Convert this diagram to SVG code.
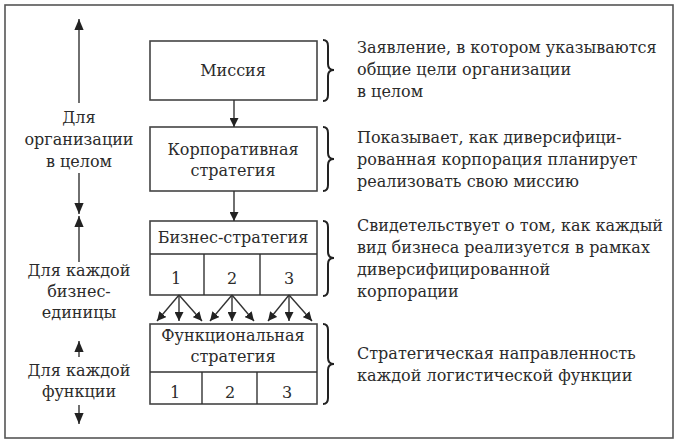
<svg xmlns="http://www.w3.org/2000/svg" width="681" height="445" viewBox="0 0 681 445">
<style>
text{font-family:"DejaVu Serif","Liberation Serif",serif;font-size:16px;fill:#2b2b2b}
.c{text-anchor:middle}
.box{fill:#fff;stroke:#444;stroke-width:1.6}
.ln{stroke:#333;stroke-width:1.4;fill:none}
.br{stroke:#222;stroke-width:2;fill:none}
</style>
<defs>
<marker id="ah" viewBox="0 0 10 10" refX="10" refY="5" markerWidth="9" markerHeight="9" markerUnits="userSpaceOnUse" orient="auto">
<path d="M0,0 L10,5 L0,10 Z" fill="#222"/>
</marker>
<marker id="ah2" viewBox="0 0 10 10" refX="10" refY="5" markerWidth="11" markerHeight="11" markerUnits="userSpaceOnUse" orient="auto">
<path d="M0,0.8 L10,5 L0,9.2 Z" fill="#222"/>
</marker>
</defs>
<rect x="5" y="5" width="668" height="433" fill="#fff" stroke="#555" stroke-width="1.6"/>

<g id="mission">
<rect class="box" x="150" y="41" width="167" height="59"/>
<text class="c" x="233" y="76">Миссия</text>
</g>
<g id="corporate">
<rect class="box" x="150" y="127" width="167" height="64"/>
<text class="c" x="233" y="155">Корпоративная</text>
<text class="c" x="233" y="176">стратегия</text>
</g>
<g id="business">
<rect class="box" x="150" y="221" width="167" height="74"/>
<line class="ln" x1="150" y1="254" x2="317" y2="254"/>
<line class="ln" x1="204" y1="254" x2="204" y2="295"/>
<line class="ln" x1="260" y1="254" x2="260" y2="295"/>
<text class="c" x="233" y="243">Бизнес-стратегия</text>
<text class="c" x="176" y="284">1</text>
<text class="c" x="232" y="284">2</text>
<text class="c" x="289" y="284">3</text>
</g>
<g id="functional">
<rect class="box" x="150" y="324" width="167" height="80"/>
<line class="ln" x1="150" y1="372" x2="317" y2="372"/>
<line class="ln" x1="202" y1="372" x2="202" y2="404"/>
<line class="ln" x1="257" y1="372" x2="257" y2="404"/>
<text class="c" x="233" y="341">Функциональная</text>
<text class="c" x="233" y="362">стратегия</text>
<text class="c" x="175" y="398">1</text>
<text class="c" x="230" y="398">2</text>
<text class="c" x="287" y="398">3</text>
</g>

<g id="connectors">
<line class="ln" x1="234" y1="100" x2="234" y2="127" marker-end="url(#ah)"/>
<line class="ln" x1="234" y1="191" x2="234" y2="221" marker-end="url(#ah)"/>
<line class="ln" x1="179" y1="295" x2="157" y2="321" marker-end="url(#ah)"/>
<line class="ln" x1="179" y1="295" x2="179" y2="321" marker-end="url(#ah)"/>
<line class="ln" x1="179" y1="295" x2="202" y2="321" marker-end="url(#ah)"/>
<line class="ln" x1="232" y1="295" x2="210" y2="321" marker-end="url(#ah)"/>
<line class="ln" x1="232" y1="295" x2="232" y2="321" marker-end="url(#ah)"/>
<line class="ln" x1="232" y1="295" x2="254" y2="321" marker-end="url(#ah)"/>
<line class="ln" x1="289" y1="295" x2="268" y2="321" marker-end="url(#ah)"/>
<line class="ln" x1="289" y1="295" x2="289" y2="321" marker-end="url(#ah)"/>
<line class="ln" x1="289" y1="295" x2="312" y2="321" marker-end="url(#ah)"/>
</g>

<g id="scope-arrows">
<line class="ln" x1="79" y1="103" x2="79" y2="19" marker-end="url(#ah2)"/>
<line class="ln" x1="79" y1="173" x2="79" y2="214" marker-end="url(#ah2)"/>
<line class="ln" x1="79" y1="262" x2="79" y2="216" marker-end="url(#ah2)"/>
<line class="ln" x1="79" y1="357" x2="79" y2="341" marker-end="url(#ah2)"/>
<line class="ln" x1="79" y1="405" x2="79" y2="424" marker-end="url(#ah2)"/>
</g>

<g id="left-labels">
<text class="c" x="79" y="123">Для</text>
<text class="c" x="79" y="145">организации</text>
<text class="c" x="79" y="167">в целом</text>
<text class="c" x="79" y="276">Для каждой</text>
<text class="c" x="79" y="297">бизнес-</text>
<text class="c" x="79" y="318">единицы</text>
<text class="c" x="79" y="376">Для каждой</text>
<text class="c" x="79" y="397">функции</text>
</g>

<g id="braces">
<path class="br" d="M323,40 Q328,40 328,46 L328,64 Q328,70 334,70 Q328,70 328,76 L328,95 Q328,101 323,101"/>
<path class="br" d="M323,127 Q328,127 328,133 L328,153 Q328,159 334,159 Q328,159 328,165 L328,185 Q328,191 323,191"/>
<path class="br" d="M323,221 Q328,221 328,227 L328,252 Q328,258 334,258 Q328,258 328,264 L328,290 Q328,296 323,296"/>
<path class="br" d="M323,324 Q328,324 328,330 L328,358 Q328,364 334,364 Q328,364 328,370 L328,398 Q328,404 323,404"/>
</g>

<g id="descriptions">
<text x="357" y="53">Заявление, в котором указываются</text>
<text x="357" y="75">общие цели организации</text>
<text x="357" y="97">в целом</text>
<text x="357" y="143">Показывает, как диверсифици-</text>
<text x="357" y="165">рованная корпорация планирует</text>
<text x="357" y="187">реализовать свою миссию</text>
<text x="357" y="231">Свидетельствует о том, как каждый</text>
<text x="357" y="253">вид бизнеса реализуется в рамках</text>
<text x="357" y="275">диверсифицированной</text>
<text x="357" y="297">корпорации</text>
<text x="357" y="359">Стратегическая направленность</text>
<text x="357" y="381">каждой логистической функции</text>
</g>
</svg>
